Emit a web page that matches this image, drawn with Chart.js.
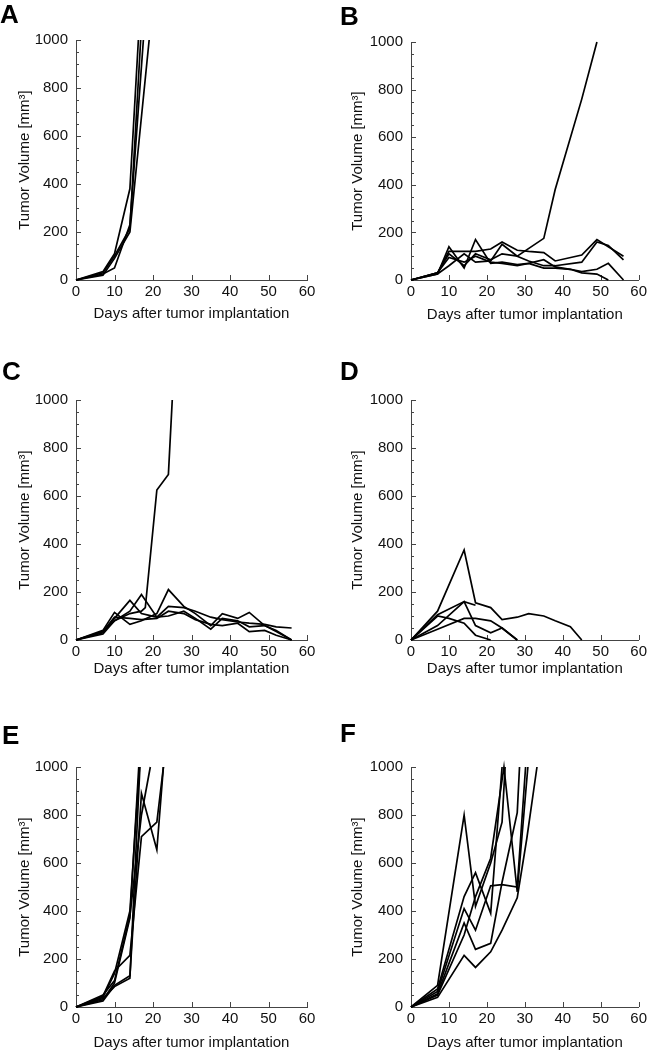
<!DOCTYPE html>
<html>
<head>
<meta charset="utf-8">
<script src="https://cdn.jsdelivr.net/npm/chart.js@4.4.0/dist/chart.umd.min.js"></script>
<style>
  body { margin: 0; background: #fff; width: 650px; height: 1050px; position: relative; overflow: hidden; }
  canvas { position: absolute; }
  .letter { position: absolute; font-family: "Liberation Sans", Arial, sans-serif; font-weight: bold; font-size: 26px; line-height: 26px; color: #000; }
</style>
</head>
<body>
<script>
// axis ticks
const xTicks = [0, 10, 20, 30, 40, 50, 60];
const yTicks = [0, 200, 400, 600, 800, 1000];
const panelLetters = ['A', 'B', 'C', 'D', 'E', 'F'];

// each mouse: [day, tumor volume mm3]
const groupA = [
  [[0, 0], [7, 35], [10, 110], [14, 380], [16.2, 1000]],
  [[0, 0], [7, 25], [10, 50], [14, 230], [17.5, 1000]],
  [[0, 0], [7, 30], [10, 100], [14, 215], [16.8, 1000]],
  [[0, 0], [7, 20], [10, 90], [14, 200], [19, 1000]]
];
const groupB = [
  [[0, 0], [7, 30], [10, 110], [14, 60], [17, 110], [21, 85], [24, 110], [28, 100], [35, 175], [38, 380], [45, 760], [49, 1000]],
  [[0, 0], [7, 25], [10, 140], [14, 50], [17, 170], [21, 70], [24, 75], [28, 65], [31, 70], [35, 85], [38, 55], [42, 45], [45, 35], [49, 45], [52, 70], [56, 0]],
  [[0, 0], [7, 30], [10, 120], [14, 120], [17, 120], [21, 130], [24, 160], [28, 125], [31, 120], [35, 115], [38, 80], [45, 105], [49, 170], [52, 140], [56, 100]],
  [[0, 0], [7, 25], [10, 60], [14, 110], [17, 75], [21, 80], [24, 150], [28, 100], [31, 80], [35, 60], [38, 60], [45, 75], [49, 160], [52, 145], [56, 85]],
  [[0, 0], [7, 30], [10, 95], [14, 75], [17, 100], [21, 75], [24, 70], [28, 60], [31, 70], [35, 50], [38, 50], [42, 45], [45, 30], [49, 25], [52, 0]]
];
const groupC = [
  [[0, 0], [7, 35], [10, 80], [14, 110], [17, 120], [18, 135], [21, 625], [24, 690], [25, 1000]],
  [[0, 0], [7, 40], [10, 115], [14, 65], [17, 80], [21, 110], [24, 210], [28, 140], [31, 110], [35, 60], [38, 110], [42, 90], [45, 115], [49, 60], [52, 40], [56, 0]],
  [[0, 0], [7, 30], [10, 90], [14, 165], [17, 110], [21, 95], [24, 140], [28, 135], [31, 120], [35, 95], [38, 85], [42, 75], [45, 70], [49, 65], [52, 55], [56, 50]],
  [[0, 0], [7, 25], [10, 80], [14, 120], [17, 190], [21, 95], [24, 100], [28, 120], [31, 90], [35, 45], [38, 90], [42, 80], [45, 55], [49, 60], [52, 35], [56, 0]],
  [[0, 0], [7, 35], [10, 95], [14, 90], [17, 85], [21, 90], [24, 120], [28, 110], [31, 85], [35, 65], [38, 60], [42, 70], [45, 35], [49, 40], [52, 20], [56, 0]]
];
const groupD = [
  [[0, 0], [7, 120], [14, 375], [17, 155], [21, 135], [24, 85], [28, 95], [31, 110], [35, 100], [38, 80], [42, 55], [45, 0]],
  [[0, 0], [7, 105], [14, 160], [17, 145]],
  [[0, 0], [7, 60], [14, 160], [17, 60], [21, 30], [24, 50], [28, 0]],
  [[0, 0], [7, 100], [10, 90], [14, 70], [17, 20], [21, 0]],
  [[0, 0], [7, 45], [14, 90], [17, 90], [21, 80], [24, 50], [28, 0]]
];
const groupE = [
  [[0, 0], [7, 40], [10, 140], [14, 400], [16.5, 1000]],
  [[0, 0], [7, 30], [10, 100], [14, 370], [16.3, 1000]],
  [[0, 0], [7, 35], [10, 85], [14, 120], [16.6, 1000]],
  [[0, 0], [7, 25], [10, 90], [14, 130], [17, 890], [21, 655], [22.7, 1000]],
  [[0, 0], [7, 45], [10, 150], [14, 215], [17, 710], [21, 770], [22.7, 1000]],
  [[0, 0], [7, 50], [10, 110], [14, 380], [17, 800], [19.3, 1000]]
];
const groupF = [
  [[0, 0], [7, 90], [14, 800], [17, 420], [21, 600], [24, 770], [24.8, 1000]],
  [[0, 0], [7, 75], [14, 460], [17, 560], [21, 390], [24, 1000]],
  [[0, 0], [7, 65], [14, 410], [17, 320], [21, 505], [24, 510], [28, 500], [30.2, 1000]],
  [[0, 0], [7, 55], [14, 350], [17, 240], [21, 265], [24, 520], [28, 810], [28.6, 1000]],
  [[0, 0], [7, 40], [14, 215], [17, 165], [21, 230], [24, 320], [28, 455], [30.5, 700], [33.2, 1000]],
  [[0, 0], [7, 50], [14, 300], [17, 460], [21, 620], [24.5, 1000], [28, 480], [30.8, 1000]]
];
const groups = [groupA, groupB, groupC, groupD, groupE, groupF];

// where each panel sits on the page (plot area in canvas coords)
const panels = [
  { x: 0,   y: 0,   w: 325, h: 330, l: 76, r: 307, t: 40, b: 280, yPad: 17, xPad: 9, letterX: 0,   letterBase: 23 },
  { x: 325, y: 0,   w: 325, h: 330, l: 86, r: 315, t: 42, b: 280, yPad: 25, xPad: 8, letterX: 340, letterBase: 25 },
  { x: 0,   y: 355, w: 325, h: 330, l: 76, r: 307, t: 45, b: 285, yPad: 17, xPad: 9, letterX: 2,   letterBase: 380 },
  { x: 325, y: 355, w: 325, h: 330, l: 86, r: 316, t: 45, b: 285, yPad: 25, xPad: 9, letterX: 340, letterBase: 380 },
  { x: 0,   y: 710, w: 325, h: 340, l: 76, r: 307, t: 57, b: 297, yPad: 17, xPad: 0, letterX: 2,   letterBase: 744 },
  { x: 325, y: 710, w: 325, h: 340, l: 86, r: 316, t: 57, b: 297, yPad: 25, xPad: 0, letterX: 340, letterBase: 742 }
];

const axisColor = '#444';
const textColor = '#111';
const fontFamily = '"Liberation Sans", Arial, sans-serif';

// ticks pointing into the plot, minor ones every 50 on y
const inwardTicks = {
  id: 'inwardTicks',
  beforeDatasetsDraw(chart) {
    const { ctx, chartArea, scales } = chart;
    ctx.save();
    ctx.strokeStyle = axisColor;
    ctx.lineWidth = 1;
    ctx.beginPath();
    for (let v = 0; v <= 1000; v += 50) {
      const py = Math.round(scales.y.getPixelForValue(v)) + 0.5;
      const len = v % 200 === 0 ? 5 : 3;
      ctx.moveTo(chartArea.left, py);
      ctx.lineTo(chartArea.left + len, py);
    }
    xTicks.forEach(v => {
      const px = Math.round(scales.x.getPixelForValue(v)) + 0.5;
      ctx.moveTo(px, chartArea.bottom);
      ctx.lineTo(px, chartArea.bottom - 5);
    });
    ctx.stroke();
    ctx.restore();
  }
};

panels.forEach((p, i) => {
  const canvas = document.createElement('canvas');
  canvas.width = p.w;
  canvas.height = p.h;
  canvas.style.left = p.x + 'px';
  canvas.style.top = p.y + 'px';
  canvas.style.width = p.w + 'px';
  canvas.style.height = p.h + 'px';
  document.body.appendChild(canvas);

  const letter = document.createElement('div');
  letter.className = 'letter';
  letter.textContent = panelLetters[i];
  letter.style.left = p.letterX + 'px';
  letter.style.top = (p.letterBase - 22) + 'px';
  document.body.appendChild(letter);

  new Chart(canvas.getContext('2d'), {
    type: 'line',
    data: {
      datasets: groups[i].map(mouse => ({
        data: mouse.map(([d, v]) => ({ x: d, y: v })),
        borderColor: '#000',
        borderWidth: 1.7,
        pointRadius: 0,
        tension: 0,
        fill: false,
        clip: false
      }))
    },
    options: {
      responsive: false,
      animation: false,
      devicePixelRatio: 1,
      events: [],
      layout: { padding: { left: 0, top: p.t, right: p.w - p.r, bottom: 0 } },
      plugins: { legend: { display: false }, tooltip: { enabled: false } },
      scales: {
        x: {
          type: 'linear',
          min: 0,
          max: 60,
          afterFit: s => { s.height = p.h - p.b; },
          afterBuildTicks: s => { s.ticks = xTicks.map(v => ({ value: v })); },
          grid: { display: false, drawTicks: false },
          border: { display: true, color: axisColor, width: 1 },
          ticks: { color: textColor, padding: 3, maxRotation: 0, font: { family: fontFamily, size: 15 }, callback: v => String(v) },
          title: {
            display: true,
            text: 'Days after tumor implantation',
            color: textColor,
            font: { family: fontFamily, size: 15, lineHeight: 1 },
            padding: { top: 0, bottom: p.xPad }
          }
        },
        y: {
          min: 0,
          max: 1000,
          afterFit: s => { s.width = p.l; },
          afterBuildTicks: s => { s.ticks = yTicks.map(v => ({ value: v })); },
          grid: { display: false, drawTicks: false },
          border: { display: true, color: axisColor, width: 1 },
          ticks: { color: textColor, padding: 8, font: { family: fontFamily, size: 15 }, callback: v => String(v) },
          title: {
            display: true,
            text: 'Tumor Volume [mm³]',
            color: textColor,
            font: { family: fontFamily, size: 15, lineHeight: 1 },
            padding: { top: p.yPad, bottom: 0 }
          }
        }
      }
    },
    plugins: [inwardTicks]
  });
});
</script>
</body>
</html>
